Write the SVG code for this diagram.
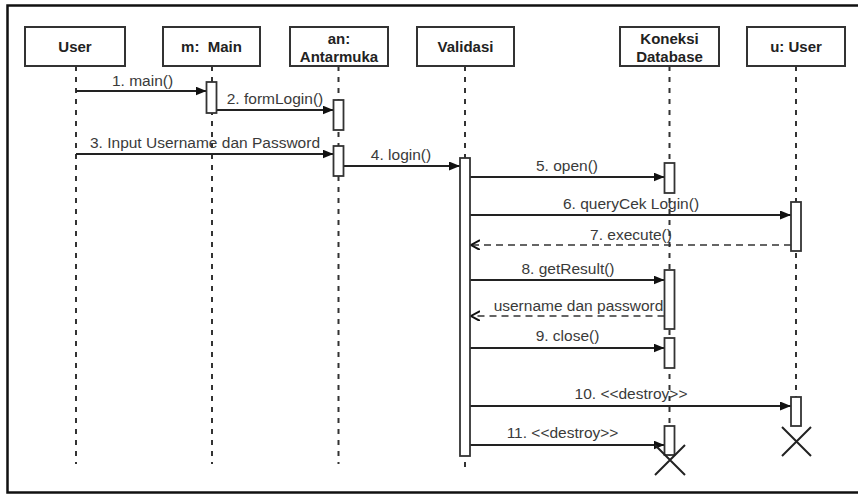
<svg xmlns="http://www.w3.org/2000/svg" width="858" height="494" viewBox="0 0 858 494">
<style>
.frame{fill:none;stroke:#111;stroke-width:2.5}
.box{fill:#fff;stroke:#333;stroke-width:2}
.hd{font-family:"Liberation Sans",Arial,sans-serif;font-weight:bold;font-size:15px;fill:#222;text-anchor:middle}
.life{stroke:#333;stroke-width:2;stroke-dasharray:5 6;fill:none}
.act{fill:#fff;stroke:#333;stroke-width:1.8}
.msg{stroke:#222;stroke-width:1.8;fill:none;marker-end:url(#fa)}
.ret{stroke:#333;stroke-width:1.6;fill:none;stroke-dasharray:7 5;marker-end:url(#oa)}
.lbl{font-family:"Liberation Sans",Arial,sans-serif;font-size:15.5px;fill:#3a3a3a;text-anchor:middle}
.x{stroke:#222;stroke-width:2;fill:none}
</style>
<defs>
<marker id="fa" markerUnits="userSpaceOnUse" markerWidth="12" markerHeight="10" refX="11" refY="4.5" orient="auto">
<path d="M0,0 L11,4.5 L0,9 z" fill="#111"/>
</marker>
<marker id="oa" markerUnits="userSpaceOnUse" markerWidth="12" markerHeight="12" refX="9" refY="5" orient="auto">
<path d="M0,0 L9,5 L0,10" fill="none" stroke="#111" stroke-width="2"/>
</marker>
</defs>
<rect class="frame" x="7.5" y="5.5" width="860" height="487"/>

<g id="lifelines">
<line class="life" x1="76" y1="66" x2="76" y2="464"/>
<line class="life" x1="212" y1="66" x2="212" y2="464"/>
<line class="life" x1="338.5" y1="66" x2="338.5" y2="464"/>
<line class="life" x1="465" y1="66" x2="465" y2="468"/>
<line class="life" x1="669.5" y1="66" x2="669.5" y2="458"/>
<line class="life" x1="796" y1="66" x2="796" y2="428"/>
</g>

<g id="node-user">
<rect class="box" x="25" y="27" width="100" height="39"/>
<text class="hd" x="75" y="52">User</text>
</g>
<g id="node-main">
<rect class="box" x="163" y="27" width="97" height="39"/>
<text class="hd" x="211.5" y="52" xml:space="preserve">m:  Main</text>
</g>
<g id="node-antarmuka">
<rect class="box" x="290" y="27" width="98" height="39"/>
<text class="hd" x="339" y="44">an:</text>
<text class="hd" x="339" y="62">Antarmuka</text>
</g>
<g id="node-validasi">
<rect class="box" x="417" y="27" width="97" height="39"/>
<text class="hd" x="465.5" y="52">Validasi</text>
</g>
<g id="node-koneksi">
<rect class="box" x="620" y="27" width="99" height="39"/>
<text class="hd" x="669.5" y="44">Koneksi</text>
<text class="hd" x="669.5" y="62">Database</text>
</g>
<g id="node-uuser">
<rect class="box" x="747" y="27" width="98" height="39"/>
<text class="hd" x="796" y="52">u: User</text>
</g>

<g id="connectors">
<line class="msg" x1="76" y1="91" x2="206.5" y2="91"/>
<text class="lbl" x="142.5" y="85.5">1. main()</text>
<line class="msg" x1="217" y1="110" x2="333.5" y2="110"/>
<text class="lbl" x="275" y="103.5">2. formLogin()</text>
<line class="msg" x1="76" y1="154" x2="333.5" y2="154"/>
<text class="lbl" x="205" y="148">3. Input Username dan Password</text>
<line class="msg" x1="344" y1="166" x2="460" y2="166"/>
<text class="lbl" x="401" y="159.5">4. login()</text>
<line class="msg" x1="470" y1="177" x2="664.5" y2="177"/>
<text class="lbl" x="567" y="170.5">5. open()</text>
<line class="msg" x1="470" y1="215" x2="791" y2="215"/>
<text class="lbl" x="631" y="208.5">6. queryCek Login()</text>
<line class="ret" x1="791" y1="245" x2="471" y2="245"/>
<text class="lbl" x="631" y="239.5">7. execute()</text>
<line class="msg" x1="470" y1="280" x2="664.5" y2="280"/>
<text class="lbl" x="568" y="273.5">8. getResult()</text>
<line class="ret" x1="664.5" y1="316" x2="471" y2="316"/>
<text class="lbl" x="578.5" y="310.5">username dan password</text>
<line class="msg" x1="470" y1="348" x2="664.5" y2="348"/>
<text class="lbl" x="567.5" y="341">9. close()</text>
<line class="msg" x1="470" y1="406" x2="791" y2="406"/>
<text class="lbl" x="631" y="399">10. &lt;&lt;destroy&gt;&gt;</text>
<line class="msg" x1="470" y1="445" x2="664.5" y2="445"/>
<text class="lbl" x="562.5" y="438">11. &lt;&lt;destroy&gt;&gt;</text>
</g>

<g id="activations">
<rect class="act" x="206.5" y="82" width="10" height="31"/>
<rect class="act" x="333.5" y="100" width="10" height="30"/>
<rect class="act" x="333.5" y="146" width="10" height="30"/>
<rect class="act" x="460" y="158" width="10" height="298"/>
<rect class="act" x="664.5" y="163" width="10" height="30"/>
<rect class="act" x="664.5" y="270" width="10" height="59"/>
<rect class="act" x="664.5" y="338" width="10" height="30"/>
<rect class="act" x="664.5" y="426" width="10" height="29"/>
<rect class="act" x="791" y="202" width="10" height="49"/>
<rect class="act" x="791" y="397" width="10" height="29"/>
</g>

<g id="destroy-marks">
<path class="x" d="M655,445 L685,475 M685,445 L655,475"/>
<path class="x" d="M782,427 L811,456 M811,427 L782,456"/>
</g>
</svg>
